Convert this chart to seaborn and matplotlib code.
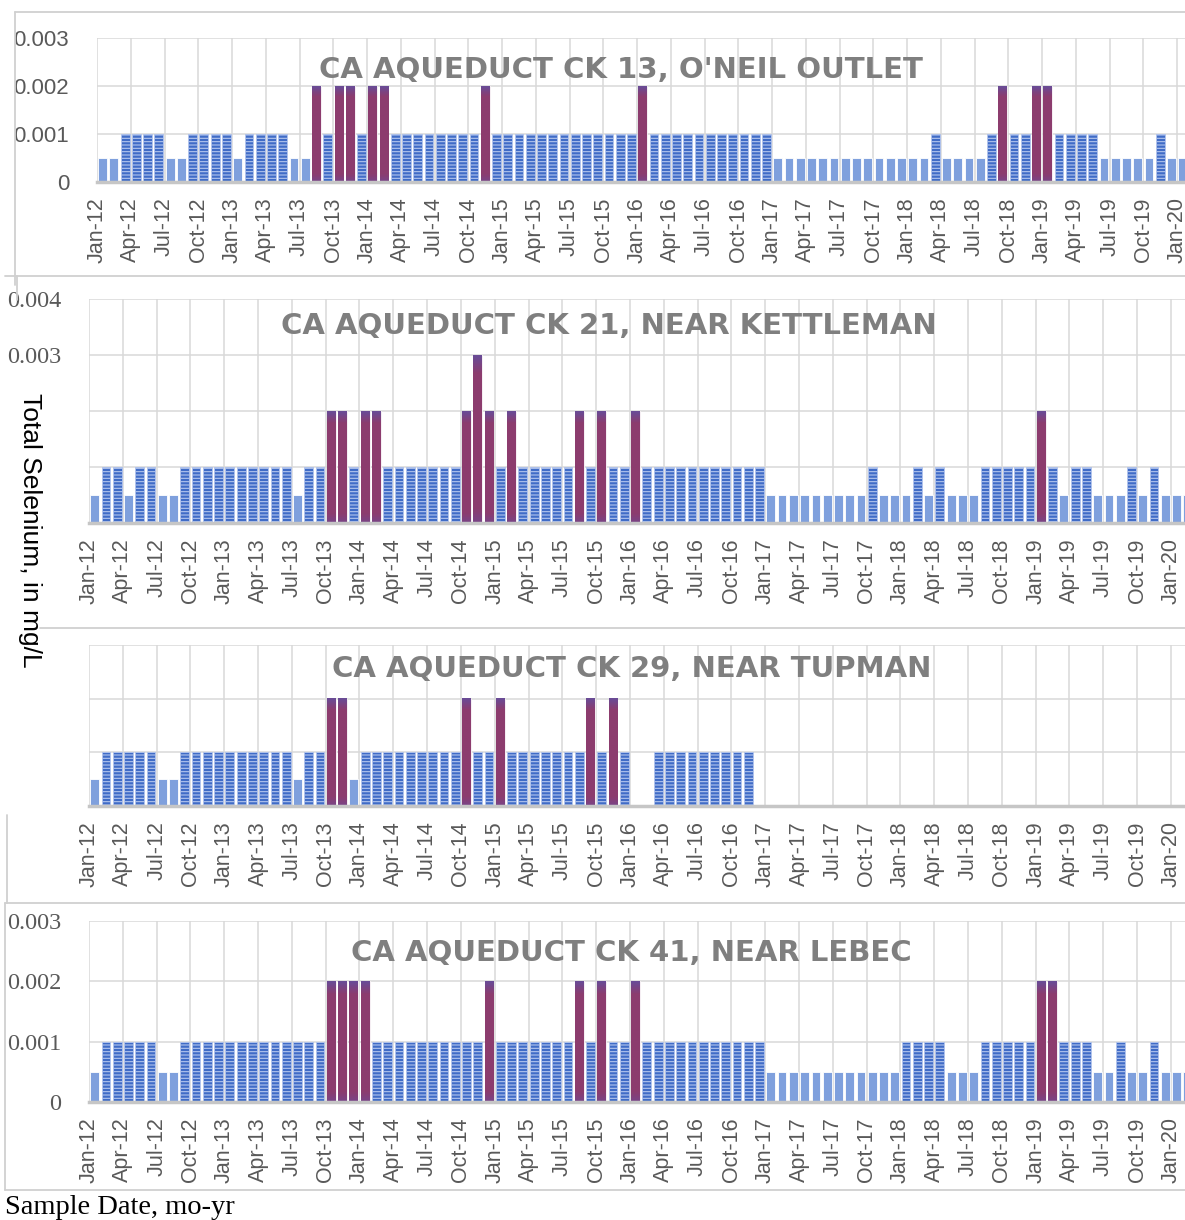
import numpy as np
import pandas as pd
import matplotlib
matplotlib.use("Agg")
import matplotlib.pyplot as plt
from matplotlib.colors import LinearSegmentedColormap
from matplotlib.lines import Line2D
import seaborn as sns

# monthly samples, Jan-12 .. Feb-20 (total selenium, mg/L); None = no sample
months = pd.date_range("2012-01-01", periods=98, freq="MS").strftime("%b-%y").tolist()
tick_labels = months[0:97:3]

ck13 = ([.0005, .0005, .001, .001, .001, .001, .0005, .0005, .001, .001, .001, .001]      # 2012
        + [.0005, .001, .001, .001, .001, .0005, .0005, .002, .001, .002, .002, .001]     # 2013
        + [.002, .002, .001, .001, .001, .001, .001, .001, .001, .001, .002, .001]        # 2014
        + [.001] * 12                                                                     # 2015
        + [.002] + [.001] * 11                                                            # 2016
        + [.0005] * 12                                                                    # 2017
        + [.0005, .0005, .001, .0005, .0005, .0005, .0005, .001, .002, .001, .001, .002]  # 2018
        + [.002, .001, .001, .001, .001, .0005, .0005, .0005, .0005, .0005, .001, .0005]  # 2019
        + [.0005, None])                                                                  # 2020

ck21 = ([.0005, .001, .001, .0005, .001, .001, .0005, .0005, .001, .001, .001, .001]
        + [.001, .001, .001, .001, .001, .001, .0005, .001, .001, .002, .002, .001]
        + [.002, .002, .001, .001, .001, .001, .001, .001, .001, .002, .003, .002]
        + [.001, .002, .001, .001, .001, .001, .001, .002, .001, .002, .001, .001]
        + [.002] + [.001] * 11
        + [.0005] * 9 + [.001, .0005, .0005]
        + [.0005, .001, .0005, .001, .0005, .0005, .0005, .001, .001, .001, .001, .001]
        + [.002, .001, .0005, .001, .001, .0005, .0005, .0005, .001, .0005, .001, .0005]
        + [.0005, .0005])

ck29 = ([.0005, .001, .001, .001, .001, .001, .0005, .0005, .001, .001, .001, .001]
        + [.001, .001, .001, .001, .001, .001, .0005, .001, .001, .002, .002, .0005]
        + [.001, .001, .001, .001, .001, .001, .001, .001, .001, .002, .001, .001]
        + [.002, .001, .001, .001, .001, .001, .001, .001, .002, .001, .002, .001]
        + [None, None] + [.001] * 9 + [None]
        + [None] * 38)

ck41 = ([.0005, .001, .001, .001, .001, .001, .0005, .0005, .001, .001, .001, .001]
        + [.001, .001, .001, .001, .001, .001, .001, .001, .001, .002, .002, .002]
        + [.002] + [.001] * 10 + [.002]
        + [.001, .001, .001, .001, .001, .001, .001, .002, .001, .002, .001, .001]
        + [.002] + [.001] * 11
        + [.0005] * 12
        + [.001, .001, .001, .001, .0005, .0005, .0005, .001, .001, .001, .001, .001]
        + [.002, .002, .001, .001, .001, .0005, .0005, .001, .0005, .0005, .001, .0005]
        + [.0005, .0005])

titles = ["CA AQUEDUCT CK 13, O'NEIL OUTLET",
          "CA AQUEDUCT CK 21, NEAR KETTLEMAN",
          "CA AQUEDUCT CK 29, NEAR TUPMAN",
          "CA AQUEDUCT CK 41, NEAR LEBEC"]

W, H = 1185, 1220
fig = plt.figure(figsize=(W / 100, H / 100), dpi=100)
sns.set_style("white")
plt.rcParams["hatch.linewidth"] = 0.8


def fx(x):
    return x / W


def fy(y):
    return 1 - y / H


purple_cmap = LinearSegmentedColormap.from_list(
    "purp", [(0, "#7a4486"), (0.08, "#8c3c6e"), (0.9, "#8c3c6e"), (1, "#6a4b95")])

# (left, top, right, bottom) in px, ymax, y labels, label font, label size, right xlim, title centre
layout = [
    ((97, 38, 1185, 182), .003, ["0", "0.001", "0.002", "0.003"], "Liberation Sans", 16, 96.2, (621, 70)),
    ((89, 299, 1185, 523), .004, ["", "", "", "0.003", "0.004"], "Liberation Serif", 17.5, 96.75, (609, 326)),
    ((89, 645, 1185, 806), .003, ["", "", "", ""], "Liberation Serif", 17.5, 96.75, (632, 669)),
    ((89, 921, 1185, 1102), .003, ["0", "0.001", "0.002", "0.003"], "Liberation Serif", 17.5, 96.75, (631, 953)),
]

styles = {
    "low": dict(color="#7fa0dd", edge="#ffffff", hatch=None),
    "mid": dict(color="#406cc7", edge="#b3c5ee", hatch="-----"),
    "high": dict(color="#8c3c6e", edge="#ffffff", hatch=None),
}

for vals, title, (box, ymax, ylabs, yfont, ysize, xright, tpos) in zip(
        [ck13, ck21, ck29, ck41], titles, layout):
    l, t, r, b = box
    ax = fig.add_axes([fx(l), fy(b), (r - l) / W, (b - t) / H])
    df = pd.DataFrame({"month": months, "value": pd.to_numeric(pd.Series(vals), errors="coerce")})
    df["kind"] = np.select([df["value"] >= .0015, df["value"] >= .00075, df["value"] > 0],
                           ["high", "mid", "low"], default="none")

    for kind, st in styles.items():
        sub = df[df["kind"] == kind]
        if sub.empty:
            continue
        n0 = len(ax.patches)
        sns.barplot(data=sub, x="month", y="value", order=months, color=st["color"],
                    saturation=1, width=0.78, errorbar=None, ax=ax)
        for p in ax.patches[n0:]:
            p.set_edgecolor(st["edge"])
            p.set_linewidth(0.6)
            if st["hatch"]:
                p.set_hatch(st["hatch"])
            if kind == "high":
                x0, y0 = p.get_x(), p.get_y()
                ax.imshow(np.linspace(0, 1, 60)[:, None], extent=(x0, x0 + p.get_width(), y0, y0 + p.get_height()),
                          origin="lower", cmap=purple_cmap, aspect="auto", zorder=p.get_zorder() + 0.1)

    ax.set_xticks(np.arange(0, 97, 3) - 0.5)
    ax.set_xticklabels(tick_labels, rotation=90, fontsize=15.5, color="#595959", family="Liberation Sans")
    ax.set_xlim(-0.5, xright)
    ax.set_ylim(0, ymax)
    ax.set_yticks(np.arange(len(ylabs)) * 0.001)
    ax.set_yticklabels(ylabs, fontsize=ysize, color="#595959", family=yfont)
    ax.grid(True, color="#d9d9d9", linewidth=1.1)
    ax.set_axisbelow(True)
    ax.set_xlabel("")
    ax.set_ylabel("")
    for s in ["left", "right", "top"]:
        ax.spines[s].set_visible(False)
    ax.spines["bottom"].set_color("#c6c6c6")
    ax.spines["bottom"].set_linewidth(2.5)
    ax.tick_params(axis="x", length=7, width=2, color="#c6c6c6", pad=4, direction="out")
    ax.tick_params(axis="y", length=0, pad=20)

    fig.text(fx(tpos[0]), fy(tpos[1]), title, ha="center", va="center", fontsize=21,
             fontweight="bold", color="#7f7f7f", family="DejaVu Sans")

# chart-area borders of the pasted panels
frame = "#d0d0d0"
for (x0, y0), (x1, y1) in [((15, 12), (1185, 12)), ((15, 12), (15, 285)),
                           ((5, 276), (1185, 276)), ((17, 276), (17, 300)),
                           ((40, 628), (1185, 628)), ((7, 815), (7, 903)),
                           ((5, 903), (1185, 903)), ((5, 903), (5, 1190)),
                           ((5, 1190), (1185, 1190))]:
    fig.add_artist(Line2D([fx(x0), fx(x1)], [fy(y0), fy(y1)], color=frame, linewidth=1.3))

fig.text(fx(30), fy(530), "Total Selenium, in mg/L", rotation=270, ha="center", va="center",
         fontsize=19, family="Liberation Sans", color="black")
fig.text(fx(5), fy(1207), "Sample Date, mo-yr", ha="left", va="center",
         fontsize=20.5, family="Liberation Serif", color="black")

fig.savefig("out.png", dpi=100)
